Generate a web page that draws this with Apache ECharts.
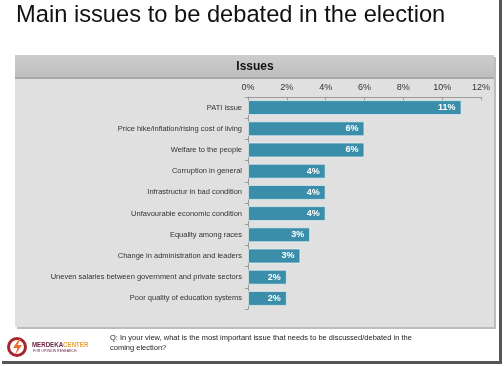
<!DOCTYPE html>
<html>
<head>
<meta charset="utf-8">
<script src="https://cdn.jsdelivr.net/npm/echarts@6/dist/echarts.min.js"></script>
<style>
html,body{margin:0;padding:0;background:#fff;}
#chart{width:504px;height:366px;}
</style>
</head>
<body>
<div id="chart"></div>
<script>
var categories = [
  'PATI issue',
  'Price hike/inflation/rising cost of living',
  'Welfare to the people',
  'Corruption in general',
  'Infrastructur in bad condition',
  'Unfavourable economic condition',
  'Equality among races',
  'Change in administration and leaders',
  'Uneven salaries between government and private sectors',
  'Poor quality of education systems'
];
var values = [11, 6, 6, 4, 4, 4, 3.2, 2.7, 2, 2];
var axisMax = 12;
var axisStep = 2;
var panelTitle = 'Issues';
var chartTitle = 'Main issues to be debated in the election';
var footnote = 'Q: In your view, what is the most important issue that needs to be discussed/debated in the\ncoming election?';

var chart = echarts.init(document.getElementById('chart'), null, {renderer: 'canvas'});
var option = {
  backgroundColor: '#ffffff',
  animation: false,
  title: {
    text: chartTitle,
    left: 16,
    top: 3,
    padding: 0,
    textStyle: {fontFamily: 'Liberation Sans, Arial', fontSize: 23.7, fontWeight: 'normal', color: '#111'}
  },
  graphic: [
    // page frame shadow
    {type: 'rect', shape: {x: 499, y: 0, width: 3, height: 364}, style: {fill: '#555'}, z: -5},
    {type: 'rect', shape: {x: 2, y: 361, width: 500, height: 3}, style: {fill: '#555'}, z: -5},
    // panel shadow
    {type: 'rect', shape: {x: 17, y: 57, width: 479, height: 272}, style: {fill: '#bdbdbd'}, z: -4},
    // panel body
    {type: 'rect', shape: {x: 15, y: 55, width: 479, height: 272}, style: {fill: '#e0e0e0'}, z: -3},
    // header band
    {type: 'rect', shape: {x: 15, y: 55, width: 479, height: 23},
      style: {fill: new echarts.graphic.LinearGradient(0, 0, 0, 1, [
        {offset: 0, color: '#cdcdcd'}, {offset: 1, color: '#bdbdbd'}])}, z: -2},
    {type: 'rect', shape: {x: 15, y: 77, width: 479, height: 2}, style: {fill: '#a8a8a8'}, z: -2},
    {type: 'text', x: 255, y: 67, style: {text: panelTitle, fontFamily: 'Liberation Sans, Arial', fontSize: 12, fontWeight: 'bold', fill: '#111', textAlign: 'center', textVerticalAlign: 'middle'}},
    // footnote
    {type: 'text', x: 110, y: 333, style: {text: footnote, fontFamily: 'Liberation Sans, Arial', fontSize: 7.5, fill: '#222', lineHeight: 10}},
    // logo
    {type: 'circle', shape: {cx: 17, cy: 347, r: 8.5}, style: {fill: 'none', stroke: '#a3262e', lineWidth: 3}},
    {type: 'polygon', shape: {points: [[19, 339], [13, 348], [17.5, 348], [15, 355], [22, 345], [17.5, 345], [20.5, 339]]}, style: {fill: '#e8702a'}},
    {type: 'text', x: 32, y: 344.5, scaleX: 0.82, originX: 0, originY: 0,
      style: {text: '{a|MERDEKA}{b|CENTER}', textVerticalAlign: 'middle',
        rich: {
          a: {fontFamily: 'Liberation Sans, Arial', fontSize: 7.5, fontWeight: 'bold', fill: '#6a2442', color: '#6a2442'},
          b: {fontFamily: 'Liberation Sans, Arial', fontSize: 7.5, fontWeight: 'bold', fill: '#e6a33c', color: '#e6a33c'}
        }}},
    {type: 'text', x: 33, y: 351, style: {text: 'FOR OPINION RESEARCH', fontFamily: 'Liberation Sans, Arial', fontSize: 3.5, fill: '#6a2442', textVerticalAlign: 'middle'}}
  ],
  grid: {left: 248, right: 23, top: 97, bottom: 57},
  xAxis: {
    type: 'value',
    position: 'top',
    min: 0,
    max: axisMax,
    interval: axisStep,
    axisLine: {show: true, lineStyle: {color: '#9a9a9a', width: 1}},
    axisTick: {show: true, inside: true, length: 3, lineStyle: {color: '#9a9a9a'}},
    splitLine: {show: false},
    axisLabel: {formatter: '{value}%', fontFamily: 'Liberation Sans, Arial', fontSize: 9, color: '#333', margin: 5}
  },
  yAxis: {
    type: 'category',
    inverse: true,
    data: categories,
    axisLine: {show: true, lineStyle: {color: '#9a9a9a', width: 1}},
    axisTick: {show: true, length: 3, lineStyle: {color: '#9a9a9a'}},
    axisLabel: {fontFamily: 'Liberation Sans, Arial', fontSize: 7.5, color: '#333', margin: 6}
  },
  series: [{
    type: 'bar',
    data: values,
    barWidth: 15,
    itemStyle: {color: '#3a8ea9', borderColor: 'rgba(235,245,248,0.7)', borderWidth: 1},
    label: {
      show: true,
      position: 'insideRight',
      distance: 6,
      formatter: function (p) { return Math.round(p.value) + '%'; },
      fontFamily: 'Liberation Sans, Arial',
      fontSize: 9,
      fontWeight: 'bold',
      color: '#ffffff'
    }
  }]
};
chart.setOption(option);
</script>
</body>
</html>
